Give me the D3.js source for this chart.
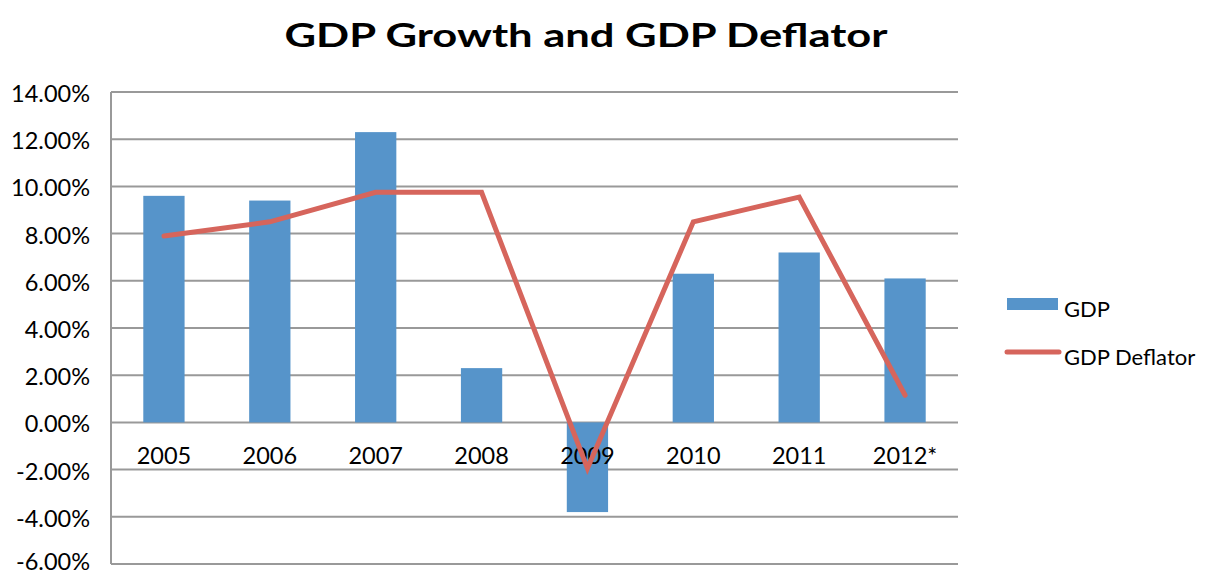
<!DOCTYPE html>
<html><head><meta charset="utf-8">
<script src="https://cdn.jsdelivr.net/npm/d3@7"></script>
<style>body{margin:0;background:#fff}svg{display:block}</style>
</head><body>
<svg id="chart" width="1208" height="576"></svg>
<script>
const categories = ["2005","2006","2007","2008","2009","2010","2011","2012*"];
const gdp = [9.6, 9.4, 12.3, 2.3, -3.8, 6.3, 7.2, 6.1];
const deflator = [7.9, 8.5, 9.75, 9.75, -1.95, 8.5, 9.55, 1.15];
const yTicks = [-6,-4,-2,0,2,4,6,8,10,12,14];
const title = "GDP Growth and GDP Deflator";
const seriesNames = ["GDP","GDP Deflator"];

const svg = d3.select("#chart");
const font = "Lato, 'Liberation Sans', Arial, sans-serif";
const pLeft = 111, pRight = 958, pTop = 92, pBottom = 564;
const blue = "#5694CA", red = "#D6655C", grid = "#999999";

const x = d3.scaleBand().domain(categories).range([pLeft, pRight]).paddingInner(0.61).paddingOuter(0.305);
const y = d3.scaleLinear().domain([-6, 14]).range([pBottom, pTop]);

// gridlines
svg.append("g").selectAll("line").data(yTicks).join("line")
  .attr("x1", pLeft).attr("x2", pRight)
  .attr("y1", d => y(d)).attr("y2", d => y(d))
  .attr("stroke", grid).attr("stroke-width", 2);
// y axis line
svg.append("line").attr("x1", pLeft).attr("x2", pLeft).attr("y1", pTop).attr("y2", pBottom)
  .attr("stroke", grid).attr("stroke-width", 2);

// y tick labels
svg.append("g").selectAll("text").data(yTicks).join("text")
  .attr("x", 90).attr("y", d => Math.min(y(d) + 10, 570))
  .attr("text-anchor", "end")
  .attr("font-family", font).attr("font-size", 23.5).attr("fill", "#000")
  .text(d => d.toFixed(2) + "%");

// bars
svg.append("g").selectAll("rect").data(gdp).join("rect")
  .attr("x", (d, i) => x(categories[i]))
  .attr("width", x.bandwidth())
  .attr("y", d => y(Math.max(0, d)))
  .attr("height", d => Math.abs(y(d) - y(0)))
  .attr("fill", blue);

// category labels
svg.append("g").selectAll("text").data(categories).join("text")
  .attr("x", d => x(d) + x.bandwidth() / 2).attr("y", 464)
  .attr("text-anchor", "middle")
  .attr("font-family", font).attr("font-size", 23.5).attr("fill", "#000")
  .text(d => d);

// deflator line
const line = d3.line().x((d, i) => x(categories[i]) + x.bandwidth() / 2).y(d => y(d));
svg.append("path").datum(deflator).attr("d", line)
  .attr("fill", "none").attr("stroke", red).attr("stroke-width", 5)
  .attr("stroke-linecap", "round").attr("stroke-linejoin", "miter");

// title
svg.append("text").attr("x", 586).attr("y", 47).attr("text-anchor", "middle")
  .attr("font-family", font).attr("font-weight", "bold").attr("font-size", 32.5)
  .attr("textLength", 603).attr("lengthAdjust", "spacingAndGlyphs")
  .text(title);

// legend
const lg = svg.append("g");
lg.append("rect").attr("x", 1007).attr("y", 298).attr("width", 51).attr("height", 12).attr("fill", blue);
lg.append("line").attr("x1", 1007).attr("x2", 1059).attr("y1", 352).attr("y2", 352)
  .attr("stroke", red).attr("stroke-width", 5).attr("stroke-linecap", "round");
lg.selectAll("text").data(seriesNames).join("text")
  .attr("x", 1064).attr("y", (d, i) => i === 0 ? 317 : 365)
  .attr("font-family", font).attr("font-size", 22).attr("fill", "#000")
  .text(d => d);
</script>
</body></html>
